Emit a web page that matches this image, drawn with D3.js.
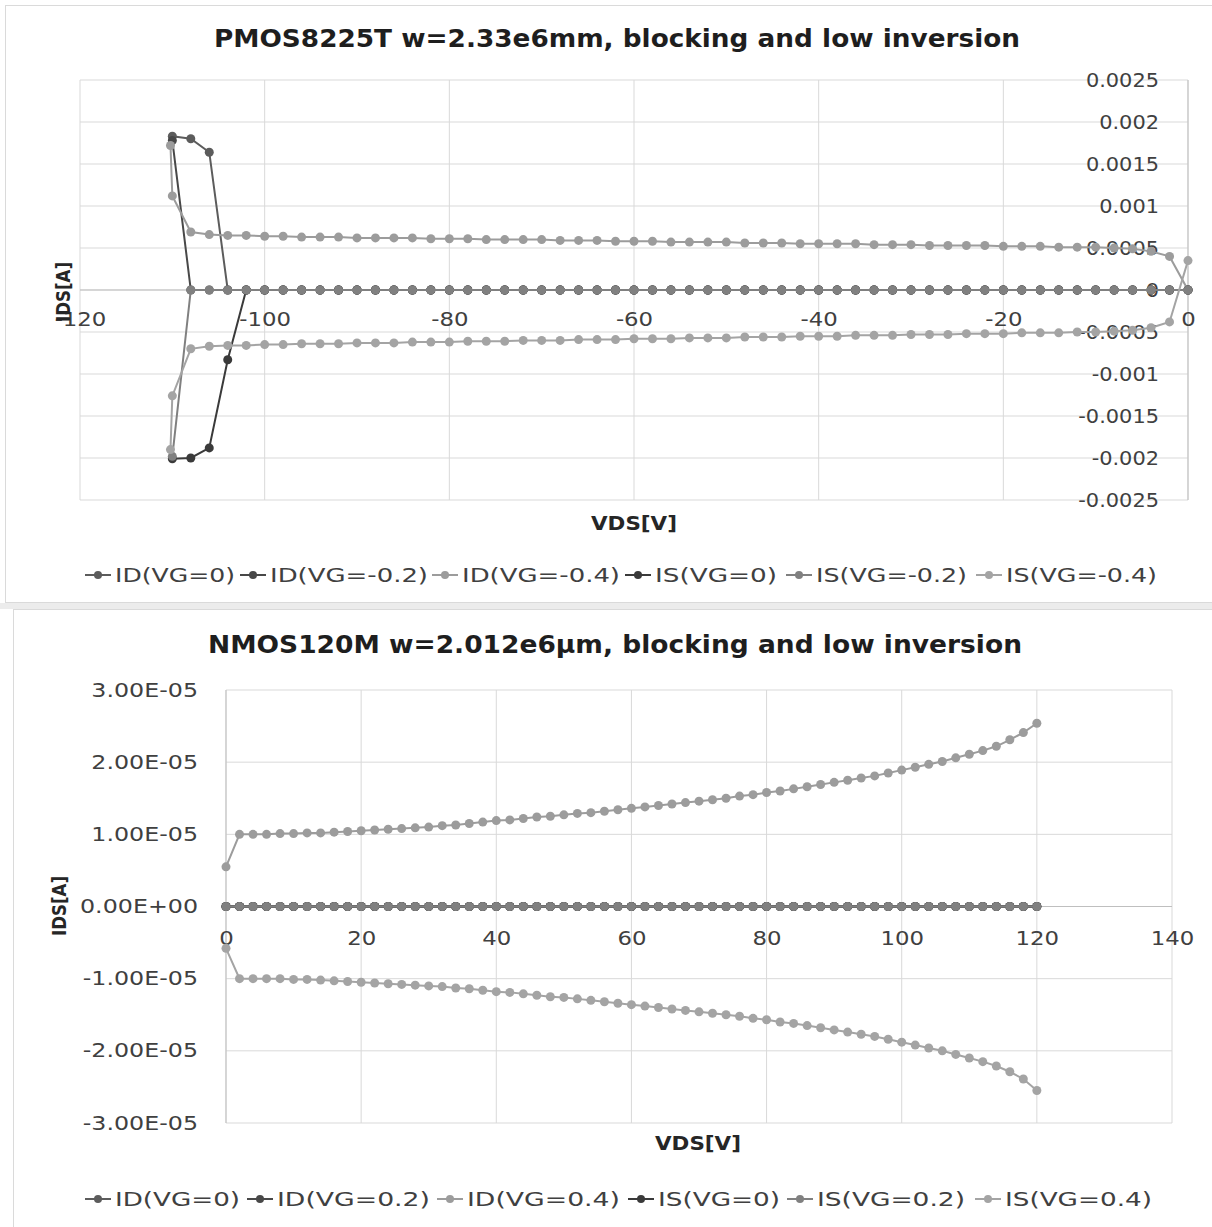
<!DOCTYPE html>
<html>
<head>
<meta charset="utf-8">
<title>PMOS8225T / NMOS120M blocking and low inversion</title>
<script src="https://cdn.jsdelivr.net/npm/d3@7"></script>
<style>
    html, body {
        margin: 0;
        padding: 0;
        background: #fff;
    }
    svg text {
        font-family: "DejaVu Sans", sans-serif;
    }
</style>
</head>
<body>
<svg id="chart" width="1212" height="1227"></svg>
<script>
// ---------- PMOS8225T (top chart) ----------
const vdsTop = [0, -2, -4, -6, -8, -10, -12, -14, -16, -18,
    -20, -22, -24, -26, -28, -30, -32, -34, -36, -38,
    -40, -42, -44, -46, -48, -50, -52, -54, -56, -58,
    -60, -62, -64, -66, -68, -70, -72, -74, -76, -78,
    -80, -82, -84, -86, -88, -90, -92, -94, -96, -98,
    -100, -102, -104, -106, -108, -110];

const idVg0Top = [0, 0, 0, 0, 0, 0, 0, 0, 0, 0,
    0, 0, 0, 0, 0, 0, 0, 0, 0, 0,
    0, 0, 0, 0, 0, 0, 0, 0, 0, 0,
    0, 0, 0, 0, 0, 0, 0, 0, 0, 0,
    0, 0, 0, 0, 0, 0, 0, 0, 0, 0,
    0, 0, 0, 0.00164, 0.00180, 0.00183];

const idVg02Top = [0, 0, 0, 0, 0, 0, 0, 0, 0, 0,
    0, 0, 0, 0, 0, 0, 0, 0, 0, 0,
    0, 0, 0, 0, 0, 0, 0, 0, 0, 0,
    0, 0, 0, 0, 0, 0, 0, 0, 0, 0,
    0, 0, 0, 0, 0, 0, 0, 0, 0, 0,
    0, 0, 0, 0, 0, 0.00178];

const idVg04Top = [0, 0.00040, 0.00046, 0.00049, 0.00050, 0.00051, 0.00051, 0.00051, 0.00052, 0.00052,
    0.00052, 0.00053, 0.00053, 0.00053, 0.00053, 0.00054, 0.00054, 0.00054, 0.00055, 0.00055,
    0.00055, 0.00055, 0.00056, 0.00056, 0.00056, 0.00057, 0.00057, 0.00057, 0.00057, 0.00058,
    0.00058, 0.00058, 0.00059, 0.00059, 0.00059, 0.00060, 0.00060, 0.00060, 0.00060, 0.00061,
    0.00061, 0.00061, 0.00062, 0.00062, 0.00062, 0.00062, 0.00063, 0.00063, 0.00063, 0.00064,
    0.00064, 0.00065, 0.00065, 0.00066, 0.00069, 0.00112];

const isVg0Top = [0, 0, 0, 0, 0, 0, 0, 0, 0, 0,
    0, 0, 0, 0, 0, 0, 0, 0, 0, 0,
    0, 0, 0, 0, 0, 0, 0, 0, 0, 0,
    0, 0, 0, 0, 0, 0, 0, 0, 0, 0,
    0, 0, 0, 0, 0, 0, 0, 0, 0, 0,
    0, 0, -0.00083, -0.00188, -0.00200, -0.00201];

const isVg02Top = [0, 0, 0, 0, 0, 0, 0, 0, 0, 0,
    0, 0, 0, 0, 0, 0, 0, 0, 0, 0,
    0, 0, 0, 0, 0, 0, 0, 0, 0, 0,
    0, 0, 0, 0, 0, 0, 0, 0, 0, 0,
    0, 0, 0, 0, 0, 0, 0, 0, 0, 0,
    0, 0, 0, 0, 0, -0.00198];

const isVg04Top = [0.00035, -0.00038, -0.00045, -0.00048, -0.00049, -0.00050, -0.00050, -0.00051, -0.00051, -0.00051,
    -0.00052, -0.00052, -0.00052, -0.00053, -0.00053, -0.00053, -0.00054, -0.00054, -0.00054, -0.00055,
    -0.00055, -0.00055, -0.00056, -0.00056, -0.00056, -0.00057, -0.00057, -0.00057, -0.00058, -0.00058,
    -0.00058, -0.00059, -0.00059, -0.00059, -0.00060, -0.00060, -0.00060, -0.00061, -0.00061, -0.00061,
    -0.00062, -0.00062, -0.00062, -0.00063, -0.00063, -0.00063, -0.00064, -0.00064, -0.00064, -0.00065,
    -0.00065, -0.00066, -0.00066, -0.00067, -0.00070, -0.00126];

// last points of the VG=-0.4 sweeps, past -110 V
const vdsTopExtra = [-110.2];
const idVg04TopExtra = [0.00172];
const isVg04TopExtra = [-0.00190];

const topXTicks = [-120, -100, -80, -60, -40, -20, 0];
const topYTicks = [0.0025, 0.002, 0.0015, 0.001, 0.0005, 0, -0.0005, -0.001, -0.0015, -0.002, -0.0025];
const topYLabels = ['0.0025', '0.002', '0.0015', '0.001', '0.0005', '0', '-0.0005', '-0.001', '-0.0015', '-0.002', '-0.0025'];
const topNames = ['ID(VG=0)', 'ID(VG=-0.2)', 'ID(VG=-0.4)', 'IS(VG=0)', 'IS(VG=-0.2)', 'IS(VG=-0.4)'];

// ---------- NMOS120M (bottom chart) ----------
const vdsBot = [0, 2, 4, 6, 8, 10, 12, 14, 16, 18,
    20, 22, 24, 26, 28, 30, 32, 34, 36, 38,
    40, 42, 44, 46, 48, 50, 52, 54, 56, 58,
    60, 62, 64, 66, 68, 70, 72, 74, 76, 78,
    80, 82, 84, 86, 88, 90, 92, 94, 96, 98,
    100, 102, 104, 106, 108, 110, 112, 114, 116, 118,
    120];

const idVg0Bot = [0, 0, 0, 0, 0, 0, 0, 0, 0, 0,
    0, 0, 0, 0, 0, 0, 0, 0, 0, 0,
    0, 0, 0, 0, 0, 0, 0, 0, 0, 0,
    0, 0, 0, 0, 0, 0, 0, 0, 0, 0,
    0, 0, 0, 0, 0, 0, 0, 0, 0, 0,
    0, 0, 0, 0, 0, 0, 0, 0, 0, 0,
    0];

const idVg02Bot = [0, 0, 0, 0, 0, 0, 0, 0, 0, 0,
    0, 0, 0, 0, 0, 0, 0, 0, 0, 0,
    0, 0, 0, 0, 0, 0, 0, 0, 0, 0,
    0, 0, 0, 0, 0, 0, 0, 0, 0, 0,
    0, 0, 0, 0, 0, 0, 0, 0, 0, 0,
    0, 0, 0, 0, 0, 0, 0, 0, 0, 0,
    0];

const idVg04Bot = [0.55e-5, 1.00e-5, 1.00e-5, 1.00e-5, 1.01e-5, 1.01e-5, 1.02e-5, 1.02e-5, 1.03e-5, 1.04e-5,
    1.05e-5, 1.06e-5, 1.07e-5, 1.08e-5, 1.09e-5, 1.10e-5, 1.12e-5, 1.13e-5, 1.15e-5, 1.17e-5,
    1.19e-5, 1.20e-5, 1.22e-5, 1.24e-5, 1.25e-5, 1.27e-5, 1.29e-5, 1.30e-5, 1.32e-5, 1.34e-5,
    1.36e-5, 1.38e-5, 1.40e-5, 1.42e-5, 1.44e-5, 1.46e-5, 1.48e-5, 1.50e-5, 1.53e-5, 1.55e-5,
    1.58e-5, 1.60e-5, 1.63e-5, 1.66e-5, 1.69e-5, 1.72e-5, 1.75e-5, 1.78e-5, 1.81e-5, 1.85e-5,
    1.89e-5, 1.93e-5, 1.97e-5, 2.01e-5, 2.06e-5, 2.11e-5, 2.16e-5, 2.22e-5, 2.31e-5, 2.41e-5,
    2.54e-5];

const isVg0Bot = [0, 0, 0, 0, 0, 0, 0, 0, 0, 0,
    0, 0, 0, 0, 0, 0, 0, 0, 0, 0,
    0, 0, 0, 0, 0, 0, 0, 0, 0, 0,
    0, 0, 0, 0, 0, 0, 0, 0, 0, 0,
    0, 0, 0, 0, 0, 0, 0, 0, 0, 0,
    0, 0, 0, 0, 0, 0, 0, 0, 0, 0,
    0];

const isVg02Bot = [0, 0, 0, 0, 0, 0, 0, 0, 0, 0,
    0, 0, 0, 0, 0, 0, 0, 0, 0, 0,
    0, 0, 0, 0, 0, 0, 0, 0, 0, 0,
    0, 0, 0, 0, 0, 0, 0, 0, 0, 0,
    0, 0, 0, 0, 0, 0, 0, 0, 0, 0,
    0, 0, 0, 0, 0, 0, 0, 0, 0, 0,
    0];

const isVg04Bot = [-0.58e-5, -1.00e-5, -1.00e-5, -1.00e-5, -1.00e-5, -1.01e-5, -1.01e-5, -1.02e-5, -1.03e-5, -1.04e-5,
    -1.05e-5, -1.06e-5, -1.07e-5, -1.08e-5, -1.09e-5, -1.10e-5, -1.11e-5, -1.13e-5, -1.14e-5, -1.16e-5,
    -1.18e-5, -1.19e-5, -1.21e-5, -1.23e-5, -1.25e-5, -1.26e-5, -1.28e-5, -1.30e-5, -1.32e-5, -1.34e-5,
    -1.36e-5, -1.38e-5, -1.40e-5, -1.42e-5, -1.44e-5, -1.46e-5, -1.48e-5, -1.50e-5, -1.52e-5, -1.55e-5,
    -1.57e-5, -1.60e-5, -1.62e-5, -1.65e-5, -1.68e-5, -1.71e-5, -1.74e-5, -1.77e-5, -1.80e-5, -1.84e-5,
    -1.88e-5, -1.92e-5, -1.96e-5, -2.00e-5, -2.05e-5, -2.10e-5, -2.15e-5, -2.21e-5, -2.29e-5, -2.39e-5,
    -2.55e-5];

const botXTicks = [0, 20, 40, 60, 80, 100, 120, 140];
const botYTicks = [3e-5, 2e-5, 1e-5, 0, -1e-5, -2e-5, -3e-5];
const botYLabels = ['3.00E-05', '2.00E-05', '1.00E-05', '0.00E+00', '-1.00E-05', '-2.00E-05', '-3.00E-05'];
const botNames = ['ID(VG=0)', 'ID(VG=0.2)', 'ID(VG=0.4)', 'IS(VG=0)', 'IS(VG=0.2)', 'IS(VG=0.4)'];

// excel grayscale series colours, same order for both charts
const seriesColors = ['#5c5c5c', '#484848', '#9c9c9c', '#3a3a3a', '#808080', '#a4a4a4'];

// ---------------------------------------------

const svg = d3.select('#chart');

// stretch text horizontally (the picture is wider than the font)
function stretch(sel, k) {
    sel.each(function () {
        const w = this.getComputedTextLength();
        d3.select(this).attr('textLength', w * k).attr('lengthAdjust', 'spacingAndGlyphs');
    });
}
function fit(sel, w) {
    sel.attr('textLength', w).attr('lengthAdjust', 'spacingAndGlyphs');
}

// chart frames
svg.append('rect').attr('x', 0).attr('y', 0).attr('width', 1212).attr('height', 1227).attr('fill', '#fff');
svg.append('rect').attr('x', 0).attr('y', 603).attr('width', 1212).attr('height', 6).attr('fill', '#ececec');
svg.append('rect').attr('x', 5.5).attr('y', 5.5).attr('width', 1210).attr('height', 597)
    .attr('fill', 'none').attr('stroke', '#dadada');
svg.append('rect').attr('x', 13.5).attr('y', 609.5).attr('width', 1202).attr('height', 620)
    .attr('fill', 'none').attr('stroke', '#dadada');

function drawChart(c) {
    const g = svg.append('g');
    const x = d3.scaleLinear().domain(c.xDomain).range([c.left, c.right]);
    const y = d3.scaleLinear().domain(c.yDomain).range([c.bottom, c.top]);

    // gridlines
    g.append('g').selectAll('line').data(c.xTicks).join('line')
        .attr('x1', d => x(d)).attr('x2', d => x(d))
        .attr('y1', c.top).attr('y2', c.bottom)
        .attr('stroke', '#d9d9d9').attr('stroke-width', 1);
    g.append('g').selectAll('line').data(c.yTicks).join('line')
        .attr('x1', c.left).attr('x2', c.right)
        .attr('y1', d => y(d)).attr('y2', d => y(d))
        .attr('stroke', '#d9d9d9').attr('stroke-width', 1);

    // axis lines (cross at zero)
    g.append('line')
        .attr('x1', c.left).attr('x2', c.right).attr('y1', y(0)).attr('y2', y(0))
        .attr('stroke', '#bfbfbf');
    g.append('line')
        .attr('x1', x(c.yAxisAt)).attr('x2', x(c.yAxisAt)).attr('y1', c.top).attr('y2', c.bottom)
        .attr('stroke', '#bfbfbf');

    // tick labels (under the series, like excel)
    const xAxis = g.append('g')
        .attr('transform', `translate(0,${y(0)})`)
        .call(d3.axisBottom(x).tickValues(c.xTicks).tickSize(0).tickPadding(c.xPad).tickFormat(d => String(d)));
    const yAxis = g.append('g')
        .attr('transform', `translate(${x(c.yAxisAt)},0)`)
        .call(d3.axisLeft(y).tickValues(c.yTicks).tickSize(0).tickPadding(c.yPad).tickFormat((d, i) => c.yLabels[i]));
    [xAxis, yAxis].forEach(a => {
        a.select('.domain').remove();
        a.selectAll('text')
            .attr('font-family', '"DejaVu Sans", sans-serif')
            .attr('font-size', 19)
            .attr('fill', '#404040');
    });
    stretch(xAxis.selectAll('text'), 1.2);
    stretch(yAxis.selectAll('text'), c.yStretch);

    // series
    const line = d3.line().x(d => x(d[0])).y(d => y(d[1]));
    c.series.forEach((s, i) => {
        const pts = s.x.map((v, j) => [v, s.y[j]]);
        const sg = g.append('g');
        sg.append('path')
            .attr('d', line(pts))
            .attr('fill', 'none')
            .attr('stroke', seriesColors[i])
            .attr('stroke-width', 2);
        sg.selectAll('circle').data(pts).join('circle')
            .attr('cx', d => x(d[0]))
            .attr('cy', d => y(d[1]))
            .attr('r', 4.5)
            .attr('fill', seriesColors[i]);
    });

    // titles
    g.append('text')
        .attr('x', c.titleX).attr('y', c.titleY)
        .attr('text-anchor', 'middle')
        .attr('font-size', 25).attr('font-weight', 'bold').attr('fill', '#1e1e1e')
        .text(c.title)
        .call(fit, c.titleW);
    g.append('text')
        .attr('x', c.xTitleX).attr('y', c.xTitleY)
        .attr('text-anchor', 'middle')
        .attr('font-size', 19).attr('font-weight', 'bold').attr('fill', '#262626')
        .text('VDS[V]')
        .call(fit, 86);
    g.append('text')
        .attr('transform', `translate(${c.yTitleX},${c.yTitleY}) rotate(-90)`)
        .attr('text-anchor', 'middle')
        .attr('font-size', 19).attr('font-weight', 'bold').attr('fill', '#262626')
        .text('IDS[A]')
        .call(fit, 60);

    // legend
    const lg = g.append('g');
    c.names.forEach((name, i) => {
        const x0 = c.legendStart[i];
        lg.append('line')
            .attr('x1', x0).attr('x2', x0 + 26)
            .attr('y1', c.legendY).attr('y2', c.legendY)
            .attr('stroke', seriesColors[i]).attr('stroke-width', 2);
        lg.append('circle')
            .attr('cx', x0 + 13).attr('cy', c.legendY).attr('r', 4)
            .attr('fill', seriesColors[i]);
        lg.append('text')
            .attr('x', x0 + 30).attr('y', c.legendY + 7)
            .attr('font-size', 19).attr('fill', '#404040')
            .text(name)
            .call(fit, c.legendEnd[i] - x0 - 30);
    });
}

drawChart({
    title: 'PMOS8225T w=2.33e6mm, blocking and low inversion',
    titleX: 617, titleY: 47, titleW: 806,
    xDomain: [-120, 0], yDomain: [-0.0025, 0.0025],
    left: 80, right: 1188, top: 80, bottom: 500,
    xTicks: topXTicks, yTicks: topYTicks, yLabels: topYLabels,
    yAxisAt: 0, xPad: 23, yPad: 29, yStretch: 1.1,
    xTitleX: 634, xTitleY: 530,
    yTitleX: 70, yTitleY: 292,
    names: topNames,
    legendY: 575,
    legendStart: [85, 240, 432, 625, 786, 976],
    legendEnd: [235, 428, 620, 777, 967, 1157],
    series: [
        { x: vdsTop, y: idVg0Top },
        { x: vdsTop, y: idVg02Top },
        { x: vdsTop.concat(vdsTopExtra), y: idVg04Top.concat(idVg04TopExtra) },
        { x: vdsTop, y: isVg0Top },
        { x: vdsTop, y: isVg02Top },
        { x: vdsTop.concat(vdsTopExtra), y: isVg04Top.concat(isVg04TopExtra) }
    ]
});

drawChart({
    title: 'NMOS120M w=2.012e6µm, blocking and low inversion',
    titleX: 615, titleY: 653, titleW: 814,
    xDomain: [0, 140], yDomain: [-3e-5, 3e-5],
    left: 226, right: 1172, top: 690, bottom: 1123,
    xTicks: botXTicks, yTicks: botYTicks, yLabels: botYLabels,
    yAxisAt: 0, xPad: 25, yPad: 28, yStretch: 1.25,
    xTitleX: 698, xTitleY: 1150,
    yTitleX: 66, yTitleY: 906,
    names: botNames,
    legendY: 1199,
    legendStart: [85, 247, 437, 628, 787, 975],
    legendEnd: [240, 430, 620, 780, 965, 1152],
    series: [
        { x: vdsBot, y: idVg0Bot },
        { x: vdsBot, y: idVg02Bot },
        { x: vdsBot, y: idVg04Bot },
        { x: vdsBot, y: isVg0Bot },
        { x: vdsBot, y: isVg02Bot },
        { x: vdsBot, y: isVg04Bot }
    ]
});
</script>
</body>
</html>
